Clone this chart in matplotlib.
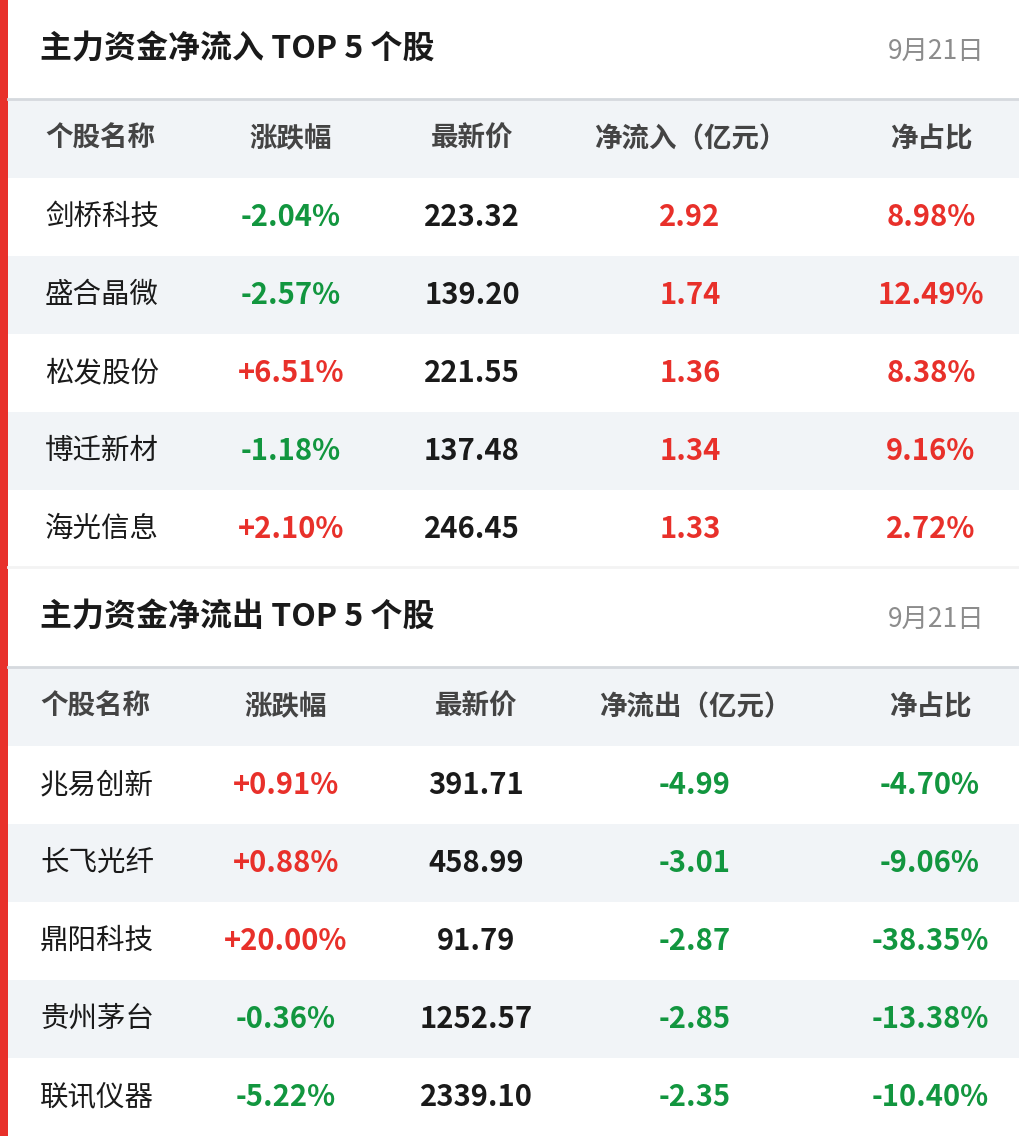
import matplotlib
matplotlib.use("Agg")
import matplotlib.pyplot as plt
from matplotlib.patches import Rectangle

plt.rcParams['font.family'] = ['Noto Sans CJK SC', 'DejaVu Sans']

date = "9月21日"
in_title = "主力资金净流入 TOP 5 个股"
out_title = "主力资金净流出 TOP 5 个股"
in_headers = ["个股名称", "涨跌幅", "最新价", "净流入（亿元）", "净占比"]
out_headers = ["个股名称", "涨跌幅", "最新价", "净流出（亿元）", "净占比"]
in_names = ["剑桥科技", "盛合晶微", "松发股份", "博迁新材", "海光信息"]
in_change = ["-2.04%", "-2.57%", "+6.51%", "-1.18%", "+2.10%"]
in_price = ["223.32", "139.20", "221.55", "137.48", "246.45"]
in_flow = ["2.92", "1.74", "1.36", "1.34", "1.33"]
in_ratio = ["8.98%", "12.49%", "8.38%", "9.16%", "2.72%"]
out_names = ["兆易创新", "长飞光纤", "鼎阳科技", "贵州茅台", "联讯仪器"]
out_change = ["+0.91%", "+0.88%", "+20.00%", "-0.36%", "-5.22%"]
out_price = ["391.71", "458.99", "91.79", "1252.57", "2339.10"]
out_flow = ["-4.99", "-3.01", "-2.87", "-2.85", "-2.35"]
out_ratio = ["-4.70%", "-9.06%", "-38.35%", "-13.38%", "-10.40%"]

RED = "#e8302a"
GREEN = "#12963f"
DARK = "#1a1a1a"
HEAD = "#444444"
BG = "#f1f4f7"

W, H = 1020, 1136
fig = plt.figure(figsize=(W/100, H/100), dpi=100)
ax = fig.add_axes([0, 0, 1, 1])
ax.set_xlim(0, W); ax.set_ylim(H, 0); ax.axis("off")

def col(s):
    return RED if s.startswith("+") or not s.startswith("-") else GREEN

DS = 21
def section(y0, title, headers, names, chg, price, flow, ratio, xs, xname):
    ax.text(40, y0+50, title, fontsize=23, fontweight="bold", color=DARK, va="center")
    ax.text(985, y0+52, date, fontsize=19, color="#8c8c8c", va="center", ha="right")
    ax.plot([8, W], [y0+99, y0+99], color="#d5d9de", lw=2)
    ax.add_patch(Rectangle((8, y0+100), W, 78, color=BG, lw=0))
    ax.text(xname, y0+139, headers[0], fontsize=19.8, fontweight="bold", color=HEAD, va="center")
    for x, h in zip(xs, headers[1:]):
        ax.text(x, y0+139, h, fontsize=19.8, fontweight="bold", color=HEAD, va="center", ha="center")
    for i in range(len(names)):
        yt = y0+178+78*i
        if i % 2 == 1:
            ax.add_patch(Rectangle((8, yt), W, 78, color=BG, lw=0))
        yc = yt+39
        ax.text(xname, yc, names[i], fontsize=20.5, color=DARK, va="center")
        ax.text(xs[0], yc, chg[i], fontsize=DS, fontweight="bold", color=col(chg[i]), va="center", ha="center")
        ax.text(xs[1], yc, price[i], fontsize=DS, fontweight="bold", color=DARK, va="center", ha="center")
        ax.text(xs[2], yc, flow[i], fontsize=DS, fontweight="bold", color=col(flow[i]), va="center", ha="center")
        ax.text(xs[3], yc, ratio[i], fontsize=DS, fontweight="bold", color=col(ratio[i]), va="center", ha="center")

section(0, in_title, in_headers, in_names, in_change, in_price, in_flow, in_ratio, [291, 472, 690, 931], 45)
ax.plot([8, W], [567, 567], color="#f3f3f3", lw=2)
section(568, out_title, out_headers, out_names, out_change, out_price, out_flow, out_ratio, [286, 476, 695, 930], 40)
ax.add_patch(Rectangle((0, 0), 8, H, color=RED, lw=0))
fig.savefig("out.png", dpi=100)
